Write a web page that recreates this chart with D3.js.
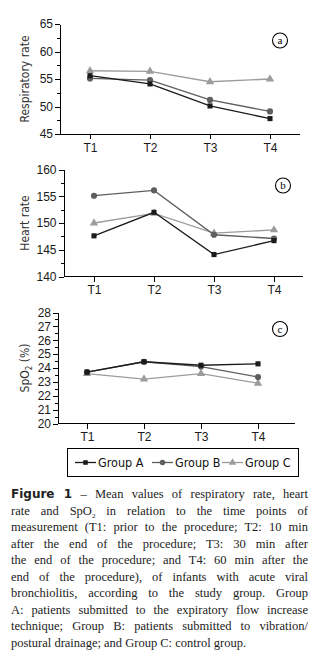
<!DOCTYPE html>
<meta charset="utf-8">
<style>
body {
  margin: 0;
  background: #fff;
}

svg {
  display: block;
  font-family: "Liberation Sans Narrow", "DejaVu Sans Condensed", sans-serif;
}

.axis path,
.axis line {
  stroke: #000;
  shape-rendering: crispEdges;
}

.axis text {
  font-size: 12px;
  fill: #1a1a1a;
}

.ylabel {
  font-size: 12px;
  fill: #333;
}

.caption {
  position: absolute;
  left: 11px;
  top: 486px;
  width: 297px;
  font-family: "Liberation Serif", serif;
  font-size: 12.5px;
  line-height: 16.5px;
  color: #222;
}

.caption div {
  white-space: nowrap;
  text-align: justify;
  text-align-last: justify;
}

.caption div.last {
  text-align-last: left;
}

.caption b {
  font-family: "DejaVu Sans", sans-serif;
  font-weight: 900;
  font-size: 12px;
}

.caption .sub {
  font-size: 7px;
  position: relative;
  top: 3px;
  line-height: 0;
}
</style>
<body>
<script src="https://cdn.jsdelivr.net/npm/d3@7"></script>
<script>

var width = 332,
    height = 484;

var times = ["T1", "T2", "T3", "T4"];
var groups = ["Group A", "Group B", "Group C"];

// respiratory rate
var respA = [55.6, 54.1, 50.1, 47.8],
    respB = [55.1, 54.8, 51.2, 49.1],
    respC = [56.5, 56.4, 54.5, 55.0];

// heart rate
var heartA = [147.6, 152.0, 144.1, 146.7],
    heartB = [155.1, 156.1, 147.8, 147.1],
    heartC = [150.0, 151.8, 148.1, 148.7];

// SpO2
var spoA = [23.7, 24.45, 24.2, 24.3],
    spoB = [23.7, 24.45, 24.1, 23.35],
    spoC = [23.6, 23.2, 23.6, 22.9];

var colors = ["#1a1a1a", "#5e5e5e", "#9c9c9c"];
var shapes = [d3.symbolSquare, d3.symbolCircle, d3.symbolTriangle];
var sizes = [26, 30, 30];

var svg = d3.select("body").append("svg")
    .attr("width", width)
    .attr("height", height);

// one panel per measure
var panels = [
  { series: [respA, respB, respC], domain: [45, 65], major: 5, label: "Respiratory rate", letter: "a",
    left: 60, top: 24, bottom: 134, x0: 90, x1: 270, xEnd: 300, badge: [280, 40.5] },
  { series: [heartA, heartB, heartC], domain: [140, 160], major: 5, label: "Heart rate", letter: "b",
    left: 63.5, top: 169.5, bottom: 276.5, x0: 94, x1: 274, xEnd: 303, badge: [283, 185.5] },
  { series: [spoA, spoB, spoC], domain: [20, 28], major: 1, label: "SpO2", letter: "c",
    left: 58, top: 312.5, bottom: 423.5, x0: 87, x1: 258, xEnd: 295, badge: [280, 329] }
];

panels.forEach(drawPanel);

function drawPanel(p) {
  var x = d3.scalePoint()
      .domain(times)
      .range([p.x0, p.x1]);

  var y = d3.scaleLinear()
      .domain(p.domain)
      .range([p.bottom, p.top]);

  var g = svg.append("g");

  // x axis
  var xa = g.append("g")
      .attr("class", "axis")
      .attr("transform", "translate(0," + p.bottom + ")")
      .call(d3.axisBottom(x).tickSize(5).tickPadding(4));
  xa.select(".domain").remove();
  xa.append("line")
      .attr("x1", p.left)
      .attr("x2", p.xEnd);

  // minor ticks on y
  var minor = d3.range(p.domain[0], p.domain[1] + 0.001, p.major / 2);
  g.append("g")
      .attr("class", "axis")
    .selectAll("line")
    .data(minor)
    .enter().append("line")
      .attr("x1", p.left - 3)
      .attr("x2", p.left)
      .attr("y1", function(d) { return Math.round(y(d)) + 0.5; })
      .attr("y2", function(d) { return Math.round(y(d)) + 0.5; });

  // y axis
  g.append("g")
      .attr("class", "axis")
      .attr("transform", "translate(" + p.left + ",0)")
      .call(d3.axisLeft(y)
        .tickValues(d3.range(p.domain[0], p.domain[1] + 0.001, p.major))
        .tickSize(5)
        .tickPadding(2)
        .tickSizeOuter(0));

  // y label
  var lab = g.append("text")
      .attr("class", "ylabel")
      .attr("transform", "translate(29," + ((p.top + p.bottom) / 2) + ") rotate(-90)")
      .attr("text-anchor", "middle");
  if (p.label == "SpO2") {
    lab.append("tspan").text("SpO");
    lab.append("tspan").attr("dy", 3).attr("font-size", "8px").text("2");
    lab.append("tspan").attr("dy", -3).text(" (%)");
  } else {
    lab.text(p.label);
  }

  // series lines, light to dark so group A sits on top
  var line = d3.line()
      .x(function(d, i) { return x(times[i]); })
      .y(function(d) { return y(d); });

  [2, 1, 0].forEach(function(k) {
    g.append("path")
        .datum(p.series[k])
        .attr("fill", "none")
        .attr("stroke", colors[k])
        .attr("stroke-width", 1.3)
        .attr("d", line);

    g.selectAll(null)
        .data(p.series[k])
        .enter().append("path")
          .attr("transform", function(d, i) { return "translate(" + x(times[i]) + "," + y(d) + ")"; })
          .attr("fill", colors[k])
          .attr("d", d3.symbol().type(shapes[k]).size(sizes[k]));
  });

  // panel letter
  g.append("circle")
      .attr("cx", p.badge[0])
      .attr("cy", p.badge[1])
      .attr("r", 7.5)
      .attr("fill", "none")
      .attr("stroke", "#000")
      .attr("stroke-width", 1.1);
  g.append("text")
      .attr("x", p.badge[0])
      .attr("y", p.badge[1] + 3.5)
      .attr("text-anchor", "middle")
      .attr("font-family", "Liberation Serif, serif")
      .attr("font-size", "11px")
      .text(p.letter);
}

// legend
var legend = svg.append("g");

legend.append("rect")
    .attr("x", 67.5)
    .attr("y", 448.5)
    .attr("width", 231)
    .attr("height", 28)
    .attr("fill", "none")
    .attr("stroke", "#000");

var legX = [75, 152, 222];

groups.forEach(function(name, k) {
  var item = legend.append("g")
      .attr("transform", "translate(" + legX[k] + ",462.5)");
  item.append("line")
      .attr("x1", 0)
      .attr("x2", 21)
      .attr("stroke", colors[k])
      .attr("stroke-width", 1.3);
  item.append("path")
      .attr("transform", "translate(10.5,0)")
      .attr("fill", colors[k])
      .attr("d", d3.symbol().type(shapes[k]).size(sizes[k] * 0.8));
  item.append("text")
      .attr("x", 23)
      .attr("y", 4.5)
      .attr("font-size", "12.5px")
      .attr("fill", "#111")
      .text(name);
});

// caption
var captionLines = [
  "<b>Figure 1</b> &ndash; Mean values of respiratory rate, heart",
  "rate and SpO<span class='sub'>2</span> in relation to the time points of",
  "measurement (T1: prior to the procedure; T2: 10 min",
  "after the end of the procedure; T3: 30 min after",
  "the end of the procedure; and T4: 60 min after the",
  "end of the procedure), of infants with acute viral",
  "bronchiolitis, according to the study group. Group",
  "A: patients submitted to the expiratory flow increase",
  "technique; Group B: patients submitted to vibration/",
  "postural drainage; and Group C: control group."
];

d3.select("body").append("div")
    .attr("class", "caption")
  .selectAll("div")
  .data(captionLines)
  .enter().append("div")
    .classed("last", function(d, i) { return i == captionLines.length - 1; })
    .html(function(d) { return d; });

</script>
